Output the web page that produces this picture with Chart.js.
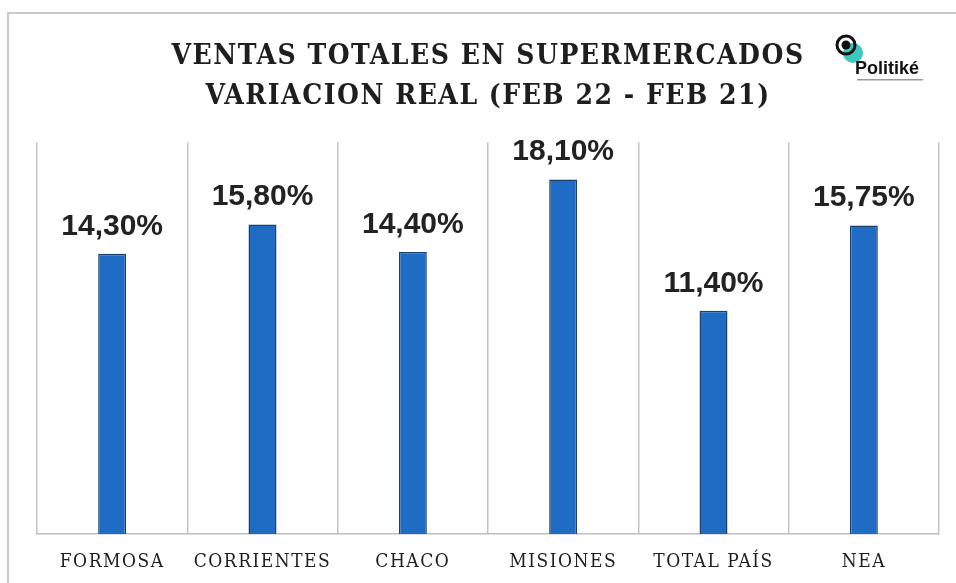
<!DOCTYPE html>
<html>
<head>
<meta charset="utf-8">
<script src="https://cdn.jsdelivr.net/npm/chart.js@4"></script>
<style>
	html, body { margin: 0; padding: 0; background: #fff; }
	#wrap { position: relative; width: 956px; height: 583px; }
</style>
</head>
<body>
<div id="wrap"><canvas id="ventasChart" width="956" height="583"></canvas></div>
<script>
var provincias = ['FORMOSA', 'CORRIENTES', 'CHACO', 'MISIONES', 'TOTAL PAÍS', 'NEA'];
var variacion = [14.30, 15.80, 14.40, 18.10, 11.40, 15.75];
var titulo = ['VENTAS TOTALES EN SUPERMERCADOS', 'VARIACION REAL (FEB 22 - FEB 21)'];

function fmtPct(v) {
	return v.toFixed(2).replace('.', ',') + '%';
}

// light frame round the picture, like the original slide
var framePlugin = {
	id: 'frame',
	beforeDraw: function(chart) {
		var ctx = chart.ctx;
		ctx.save();
		ctx.strokeStyle = '#c8c8c8';
		ctx.lineWidth = 2;
		ctx.beginPath();
		ctx.moveTo(8, 583);
		ctx.lineTo(8, 13);
		ctx.lineTo(956, 13);
		ctx.stroke();
		ctx.restore();
		// letter spacing for the slab-serif title and labels
		ctx.letterSpacing = '1.5px';
	},
	beforeDatasetsDraw: function(chart) {
		chart.ctx.letterSpacing = '0px';
	}
};

// value labels above each bar
var valuePlugin = {
	id: 'valores',
	afterDatasetsDraw: function(chart) {
		var ctx = chart.ctx;
		var meta = chart.getDatasetMeta(0);
		ctx.save();
		ctx.letterSpacing = '0px';
		ctx.font = 'bold 30px "Liberation Sans", Arial, sans-serif';
		ctx.fillStyle = '#222';
		ctx.textAlign = 'center';
		ctx.textBaseline = 'alphabetic';
		meta.data.forEach(function(bar, i) {
			ctx.fillText(fmtPct(variacion[i]), bar.x, bar.y - 19);
		});
		ctx.restore();
	}
};

// small Politiké logo next to the title
var logoPlugin = {
	id: 'logo',
	afterDraw: function(chart) {
		var ctx = chart.ctx;
		ctx.save();
		ctx.letterSpacing = '0px';
		ctx.fillStyle = '#3cc8c0';
		ctx.beginPath();
		ctx.arc(853, 53, 10, 0, Math.PI * 2);
		ctx.fill();
		ctx.strokeStyle = '#111';
		ctx.lineWidth = 3;
		ctx.beginPath();
		ctx.arc(846, 45, 9, 0, Math.PI * 2);
		ctx.stroke();
		ctx.fillStyle = '#111';
		ctx.beginPath();
		ctx.arc(846, 45, 4.5, 0, Math.PI * 2);
		ctx.fill();
		ctx.font = 'bold 18px "Liberation Sans", Arial, sans-serif';
		ctx.fillText('Politiké', 855, 74);
		ctx.fillStyle = '#9a9a9a';
		ctx.fillRect(857, 79, 66, 1.5);
		ctx.restore();
	}
};

var ctx = document.getElementById('ventasChart').getContext('2d');
var chart = new Chart(ctx, {
	type: 'bar',
	data: {
		labels: provincias,
		datasets: [{
			data: variacion,
			backgroundColor: '#1f6cc4',
			borderColor: '#1c3f6e',
			borderWidth: 1.5,
			barPercentage: 0.62,
			categoryPercentage: 0.3
		}]
	},
	options: {
		responsive: false,
		animation: false,
		layout: {
			padding: { left: 37, right: 17, top: 0, bottom: 0 }
		},
		scales: {
			x: {
				grid: {
					offset: true,
					color: '#c4c4c4',
					lineWidth: 1.5,
					drawTicks: false
				},
				border: { display: true, color: '#bdbdbd', width: 1.5 },
				ticks: {
					color: '#1e1e1e',
					padding: 17,
					font: { family: '"DejaVu Serif Condensed", "DejaVu Serif", serif', size: 19 }
				},
				afterFit: function(scale) { scale.height = 49; }
			},
			y: {
				display: false,
				min: 0,
				max: 20
			}
		},
		plugins: {
			legend: { display: false },
			tooltip: { enabled: false },
			title: {
				display: true,
				text: titulo,
				color: '#1e1e1e',
				align: 'center',
				font: { family: '"DejaVu Serif Condensed", "DejaVu Serif", serif', size: 28, weight: 'bold', lineHeight: 1.45 },
				padding: { top: 36, bottom: 25 }
			}
		}
	},
	plugins: [framePlugin, valuePlugin, logoPlugin]
});
</script>
</body>
</html>
